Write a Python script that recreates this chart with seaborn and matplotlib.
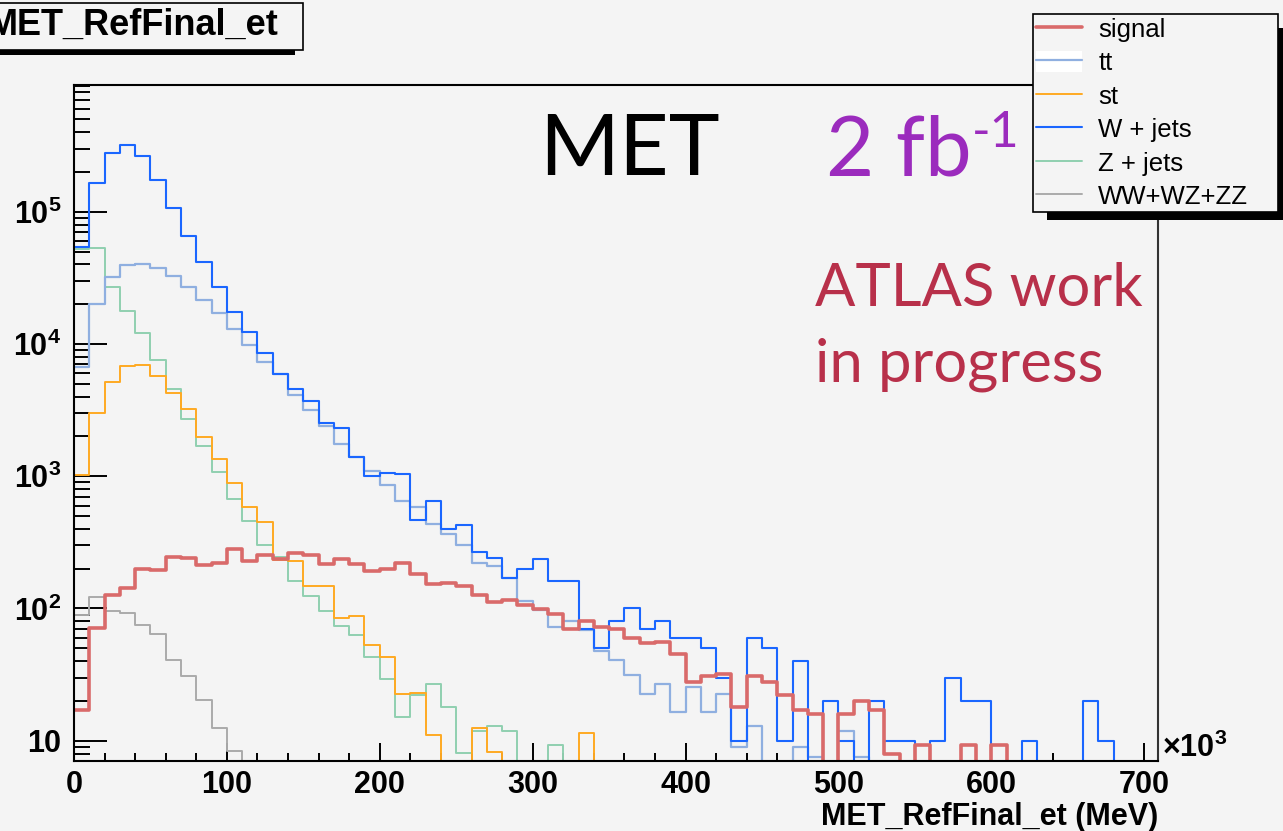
import numpy as np
import pandas as pd
import matplotlib
matplotlib.use("Agg")
import matplotlib.pyplot as plt
import matplotlib.ticker as mticker
from matplotlib.patches import Rectangle, Patch
from matplotlib.lines import Line2D
from matplotlib.legend_handler import HandlerTuple
import seaborn as sns

# ---------------- data (bin contents, 10 GeV bins from 0 to 710) ----------------
bin_edges = list(range(0, 720, 10))

signal = [17, 71, 127, 143, 199, 196, 244, 240, 212, 222,
          281, 227, 254, 236, 263, 254, 217, 236, 216, 192,
          198, 222, 182, 153, 155, 148, 127, 112, 116, 106,
          99, 91, 70, 80, 72, 70, 60, 55, 56, 45,
          28, 31, 32, 18, 31, 28, 22, 17, 16, 0,
          16, 20, 17, 8, 0, 9.2, 0, 0, 9.2, 0,
          9.2, 0, 0, 0, 0, 0, 0, 0, 0, 0, 0]

ttbar = [6750, 20000, 31900, 39300, 40500, 37700, 32700, 27000, 21400, 17100,
         13000, 9820, 7310, 5900, 4110, 3170, 2410, 1750, 1400, 1100,
         855, 654, 580, 434, 366, 303, 220, 208, 169, 114,
         97.5, 72, 80, 69, 48, 40.5, 31.5, 22.6, 26.9, 16.4,
         25.4, 16.4, 22.6, 9.0, 13, 0, 0, 9.0, 7.5, 0,
         11.9, 7.5, 0, 0, 0, 0, 0, 0, 0, 0,
         0, 0, 0, 0, 0, 0, 0, 0, 0, 0, 0]

single_top = [1023, 3030, 5190, 6780, 6980, 5730, 4290, 3230, 1980, 1343,
              889, 586, 449, 233, 227, 149, 149, 85, 88, 52.5,
              43.3, 22.7, 23.1, 11.1, 0, 0, 12.4, 8.2, 0, 0,
              0, 0, 0, 11.4, 0, 0, 0, 0, 0, 0,
              0, 0, 0, 0, 0, 0, 0, 0, 0, 0,
              0, 0, 0, 0, 0, 0, 0, 0, 0, 0,
              0, 0, 0, 0, 0, 0, 0, 0, 0, 0, 0]

w_jets = [54300, 164000, 279000, 321000, 264000, 175000, 107000, 65000, 41700, 27000,
          17400, 12400, 8590, 5900, 4600, 3710, 2540, 2330, 1400, 1010,
          1065, 1040, 468, 650, 400, 429, 269, 240, 169, 199,
          237, 160, 160, 70, 50, 80, 100, 70, 80, 60,
          60, 50, 30, 10, 60, 50, 10, 40, 0, 20,
          10, 0, 20, 10, 10, 0, 10, 30, 20, 20,
          0, 0, 10, 0, 0, 0, 20, 10, 0, 0, 0]

z_jets = [52000, 53500, 26800, 17800, 12200, 7570, 4570, 2710, 1700, 1083,
          670, 459, 303, 247, 160, 124, 96, 74, 63, 43.3,
          29.3, 15, 22, 26.8, 17.9, 8.05, 11.9, 13, 11.9, 0,
          0, 9.2, 0, 0, 0, 0, 0, 0, 0, 0,
          0, 0, 0, 0, 0, 0, 0, 0, 0, 0,
          0, 0, 0, 0, 0, 0, 0, 0, 0, 0,
          0, 0, 0, 0, 0, 0, 0, 0, 0, 0, 0]

diboson = [88.5, 122, 95, 92, 75.5, 64.3, 40.6, 31, 20.4, 12.4,
           8.4, 0, 0, 0, 0, 0, 0, 0, 0, 0,
           0, 0, 0, 0, 0, 0, 0, 0, 0, 0,
           0, 0, 0, 0, 0, 0, 0, 0, 0, 0,
           0, 0, 0, 0, 0, 0, 0, 0, 0, 0,
           0, 0, 0, 0, 0, 0, 0, 0, 0, 0,
           0, 0, 0, 0, 0, 0, 0, 0, 0, 0, 0]

labels = ["signal", "tt", "st", "W + jets", "Z + jets", "WW+WZ+ZZ"]
x_ticks = [0, 100, 200, 300, 400, 500, 600, 700]

# ---------------- style ----------------
BG = "#f4f4f4"
colors = {"signal": "#d96a6a", "tt": "#8fafe0", "st": "#ffa922",
          "W + jets": "#1a66ff", "Z + jets": "#90d0b0", "WW+WZ+ZZ": "#aaaaaa"}
widths = {"signal": 2.6, "tt": 1.6, "st": 1.4, "W + jets": 1.5,
          "Z + jets": 1.4, "WW+WZ+ZZ": 1.4}

sns.set_theme(style="white")
plt.rcParams["font.family"] = ["Liberation Sans", "DejaVu Sans"]
plt.rcParams["font.weight"] = "bold"
plt.rcParams["text.color"] = "black"
plt.rcParams["axes.labelcolor"] = "black"
plt.rcParams["xtick.color"] = "black"
plt.rcParams["ytick.color"] = "black"
plt.rcParams["mathtext.fontset"] = "custom"
plt.rcParams["mathtext.rm"] = "Liberation Sans:bold"
plt.rcParams["mathtext.bf"] = "Liberation Sans:bold"
plt.rcParams["mathtext.it"] = "Liberation Sans:bold"

W, H = 1283, 831
fig = plt.figure(figsize=(W / 100, H / 100), dpi=100, facecolor=BG)
ax = fig.add_axes([74 / W, 1 - 760.7 / H, (1158 - 74) / W, (760.7 - 85) / H])
ax.set_facecolor(BG)

edges_arr = np.array(bin_edges, dtype=float)
centers = (edges_arr[:-1] + edges_arr[1:]) / 2
series = {"signal": signal, "tt": ttbar, "st": single_top, "W + jets": w_jets,
          "Z + jets": z_jets, "WW+WZ+ZZ": diboson}
draw_order = ["WW+WZ+ZZ", "Z + jets", "st", "tt", "W + jets", "signal"]
for name in draw_order:
    df = pd.DataFrame({"met": centers, "events": np.asarray(series[name], dtype=float)})
    sns.histplot(data=df, x="met", weights="events", bins=bin_edges, element="step",
                 fill=False, color=colors[name], linewidth=widths[name], ax=ax)

ax.set_yscale("log", nonpositive="clip")
ax.set_ylim(7.06, 9.08e5)
ax.set_xlim(0, 709)
ax.set_ylabel("")

ax.xaxis.set_major_locator(mticker.FixedLocator(x_ticks))
ax.xaxis.set_major_formatter(mticker.FixedFormatter([str(t) for t in x_ticks]))
ax.xaxis.set_minor_locator(mticker.MultipleLocator(20))
ax.yaxis.set_major_locator(mticker.LogLocator(base=10, numticks=12))
ax.yaxis.set_minor_locator(mticker.LogLocator(base=10, subs=np.arange(2, 10), numticks=12))


def yfmt(v, pos):
    e = int(round(np.log10(v)))
    if e == 1:
        return "10"
    return r"$\mathbf{10^{%d}}$" % e


ax.yaxis.set_major_formatter(mticker.FuncFormatter(yfmt))
ax.yaxis.set_minor_formatter(mticker.NullFormatter())

ax.tick_params(axis="both", which="both", direction="in", top=False, right=False,
               bottom=True, left=True, color="black", labelcolor="black",
               labelsize=22, width=1.4)
ax.tick_params(axis="y", which="major", length=23.8, pad=9)
ax.tick_params(axis="y", which="minor", length=11.5)
ax.tick_params(axis="x", which="major", length=13, pad=7)
ax.tick_params(axis="x", which="minor", length=5.8)

for s in ax.spines.values():
    s.set_color("black")
    s.set_linewidth(1.5)
    s.set_visible(True)
ax.spines["right"].set_color("#333333")

ax.set_xlabel("MET_RefFinal_et (MeV)", loc="right", fontsize=22, labelpad=1,
              fontweight="bold", color="black")

fig.text(1162 / W, 1 - 757 / H, r"$\times\mathbf{10^{3}}$", fontsize=22, ha="left",
         va="baseline", color="black")

# ---------------- annotations ----------------
fig.text(539 / W, 1 - 175 / H, "MET", fontsize=62, family="Lato", weight="normal",
         color="black", ha="left", va="baseline")
fig.text(826 / W, 1 - 175 / H, "2 fb", fontsize=60, family="Lato", weight="normal",
         color="#9b2bbd", ha="left", va="baseline")
fig.text(972 / W, 1 - 147 / H, "-1", fontsize=36, family="Lato", weight="normal",
         color="#9b2bbd", ha="left", va="baseline")
fig.text(815 / W, 1 - 306 / H, "ATLAS work", fontsize=43, family="Lato",
         weight="normal", color="#b8304a", ha="left", va="baseline")
fig.text(815 / W, 1 - 381.7 / H, "in progress", fontsize=43, family="Lato",
         weight="normal", color="#b8304a", ha="left", va="baseline")

# ---------------- title box (ROOT style) ----------------
fig.add_artist(Rectangle((-5 / W, 1 - 55 / H), 300 / W, 6 / H, transform=fig.transFigure,
                         facecolor="black", edgecolor="none", zorder=4))
fig.add_artist(Rectangle((-5 / W, 1 - 50 / H), 308 / W, 47 / H, transform=fig.transFigure,
                         facecolor=BG, edgecolor="black", linewidth=1.2, zorder=5))
fig.text(278 / W, 1 - 35 / H, "MET_RefFinal_et", fontsize=26, weight="bold",
         ha="right", va="baseline", zorder=6, color="black")

# ---------------- legend (ROOT style with shadow) ----------------
fig.add_artist(Rectangle((1047 / W, 1 - 220 / H), 250 / W, 192 / H,
                         transform=fig.transFigure, facecolor="black",
                         edgecolor="none", zorder=3))
handles = []
for name in labels:
    ln = Line2D([], [], color=colors[name], linewidth=widths[name])
    if name == "tt":
        handles.append((Patch(facecolor="white", edgecolor="none"), ln))
    else:
        handles.append(ln)
leg = fig.legend(handles, labels, loc="upper left",
                 bbox_to_anchor=(1033 / W, 1 - 212 / H, 245 / W, 198 / H),
                 mode="expand", borderaxespad=0, borderpad=0.12, labelspacing=0.35,
                 handleheight=0.9, handlelength=1.8, handletextpad=0.62,
                 frameon=True, fancybox=False, framealpha=1, facecolor=BG,
                 edgecolor="black", labelcolor="black",
                 prop={"family": "Liberation Sans", "weight": "normal", "size": 18.5},
                 handler_map={tuple: HandlerTuple(ndivide=1, pad=0)})
leg.get_frame().set_linewidth(1.2)
leg.set_zorder(10)

fig.savefig("out.png", dpi=100, facecolor=BG)
